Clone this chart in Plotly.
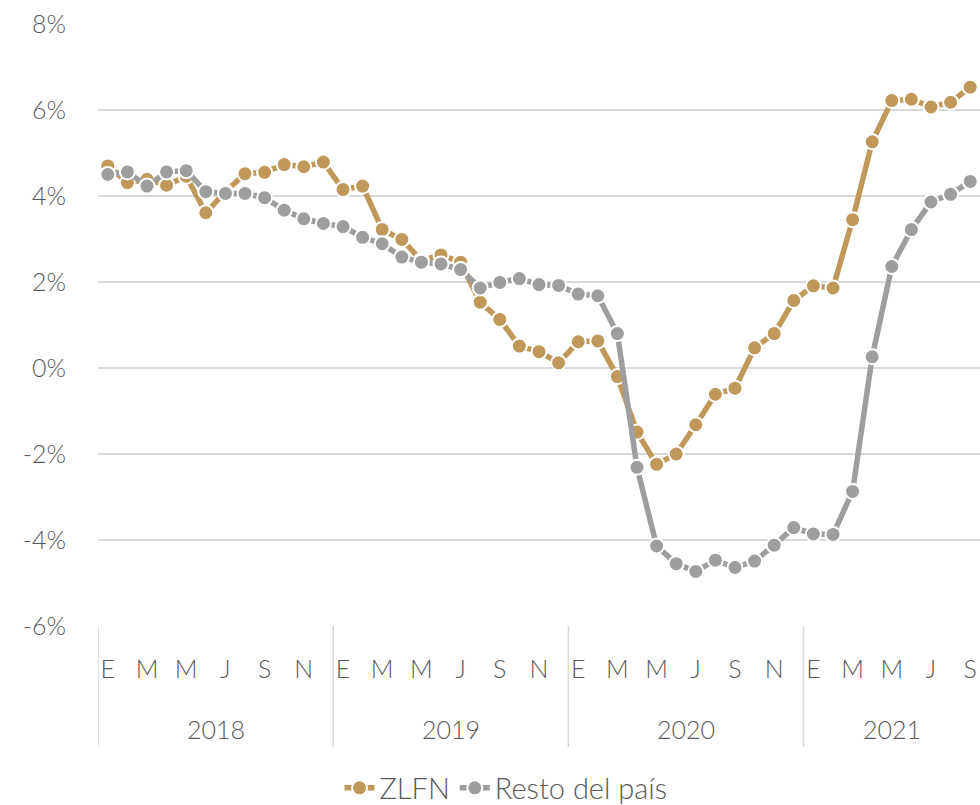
import plotly.graph_objects as go

years = ["2018", "2019", "2020", "2021"]
months = ["E", "F", "M", "A", "M", "J", "J", "A", "S", "O", "N", "D"]
month_labels = [m for y in years for m in months][:45]

zlfn = [4.70, 4.31, 4.39, 4.25, 4.46, 3.61, 4.10, 4.52, 4.55, 4.73, 4.68, 4.79,
        4.15, 4.23, 3.22, 2.99, 2.50, 2.63, 2.46, 1.53, 1.13, 0.51, 0.38, 0.12,
        0.61, 0.63, -0.20, -1.49, -2.24, -2.00, -1.32, -0.61, -0.47, 0.47, 0.80, 1.57,
        1.91, 1.86, 3.45, 5.26, 6.22, 6.25, 6.07, 6.18, 6.53]
resto = [4.50, 4.56, 4.23, 4.56, 4.59, 4.10, 4.06, 4.06, 3.96, 3.67, 3.47, 3.36,
         3.29, 3.04, 2.89, 2.58, 2.46, 2.42, 2.29, 1.86, 1.99, 2.08, 1.94, 1.92,
         1.72, 1.68, 0.80, -2.31, -4.14, -4.55, -4.73, -4.47, -4.64, -4.49, -4.12, -3.71,
         -3.86, -3.87, -2.87, 0.26, 2.36, 3.22, 3.86, 4.04, 4.34]
y_ticks = [-6, -4, -2, 0, 2, 4, 6, 8]
y_tick_text = ["-6%", "-4%", "-2%", "0%", "2%", "4%", "6%", "8%"]

n = len(zlfn)
x = list(range(n))
tick_idx = [i for i in x if i % 2 == 0]
tick_txt = [month_labels[i] for i in tick_idx]

FONT = "Lato"
TXT = "#595959"
GOLD = "#c0995a"
GRAY = "#9e9e9e"
GRID = "#d9d9d9"

W, H = 980, 805
L, T, B = 98, 24, 179

fig = go.Figure()
for name, vals, col in [("ZLFN", zlfn, GOLD), ("Resto del país", resto, GRAY)]:
    fig.add_trace(go.Scatter(
        x=x, y=vals, name=name, mode="lines+markers", cliponaxis=False,
        line=dict(color=col, width=5.5),
        marker=dict(color=col, size=15, line=dict(color="white", width=2)),
    ))

shapes = []
for k in range(len(years)):
    xv = k * 12 - 0.5
    shapes.append(dict(type="line", xref="x", yref="paper", x0=xv, x1=xv,
                       y0=0, y1=-0.201, line=dict(color=GRID, width=1.5)))
annotations = []
for k, yr in enumerate(years):
    a = k * 12 - 0.5
    b = min(k * 12 + 12, n) - 0.5
    annotations.append(dict(x=(a + b) / 2, y=-0.171, xref="x", yref="paper",
                            xanchor="center", yanchor="middle",
                            text=yr, showarrow=False,
                            font=dict(family=FONT, size=25, color=TXT, weight=300)))

fig.update_layout(
    width=W, height=H,
    margin=dict(l=L, r=0, t=T, b=B),
    paper_bgcolor="white", plot_bgcolor="white",
    font=dict(family=FONT, size=25, color=TXT, weight=300),
    shapes=shapes, annotations=annotations,
    legend=dict(orientation="h", x=0.4626, xanchor="center",
                yref="container", y=1 - 788 / 805, yanchor="middle",
                font=dict(family=FONT, size=29, color=TXT, weight=300),
                traceorder="normal"),
    showlegend=True,
)
fig.update_xaxes(range=[-0.5, n - 0.5], tickmode="array", tickvals=tick_idx, ticktext=tick_txt,
                 showgrid=False, zeroline=False, showline=False, ticks="",
                 ticklabelstandoff=26, automargin=False, ticklabeloverflow="allow",
                 tickfont=dict(family=FONT, size=25, color=TXT, weight=300))
fig.update_yaxes(range=[-6, 8], tickmode="array", tickvals=y_ticks, ticktext=y_tick_text,
                 showgrid=True, gridcolor=GRID, gridwidth=2,
                 zeroline=True, zerolinecolor=GRID, zerolinewidth=2,
                 showline=False, ticks="", ticklabelstandoff=31, automargin=False,
                 ticklabeloverflow="allow",
                 tickfont=dict(family=FONT, size=25, color=TXT, weight=300))

fig.write_html("out.html", config={"displayModeBar": False},
               post_script="document.body.style.margin='0';document.body.style.overflow='hidden';")
